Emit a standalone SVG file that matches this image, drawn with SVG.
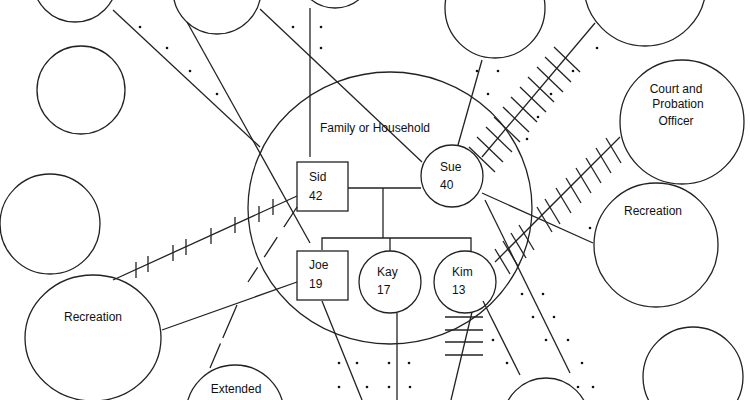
<svg xmlns="http://www.w3.org/2000/svg" width="750" height="400" viewBox="0 0 750 400">
<style>
.n{fill:none;stroke:#222;stroke-width:1.3}
.l{fill:none;stroke:#222;stroke-width:1.3}
.t{font-family:"Liberation Sans",Arial,sans-serif;font-size:12px;fill:#111}
.d{fill:#111}
</style>
<rect width="750" height="400" fill="#fff"/>
<g id="connectors">
<line class="l" x1="310" y1="8" x2="310" y2="157"/>
<line class="l" x1="113" y1="10" x2="260" y2="147"/>
<line class="l" x1="187" y1="22" x2="310" y2="243"/>
<line class="l" x1="260" y1="9" x2="422" y2="162"/>
<line class="l" x1="458" y1="145" x2="482" y2="60"/>
<line class="l" x1="482" y1="157" x2="595" y2="23"/>
<g class="l">
<line x1="469" y1="147" x2="495" y2="172"/><line x1="477" y1="137" x2="503" y2="162"/><line x1="486" y1="127" x2="512" y2="152"/><line x1="494" y1="117" x2="520" y2="142"/><line x1="503" y1="107" x2="529" y2="132"/><line x1="511" y1="97" x2="537" y2="122"/><line x1="520" y1="87" x2="546" y2="112"/><line x1="528" y1="77" x2="554" y2="102"/><line x1="537" y1="67" x2="563" y2="92"/><line x1="545" y1="57" x2="571" y2="82"/><line x1="554" y1="47" x2="580" y2="72"/>
</g>
<line class="l" x1="495" y1="262" x2="620" y2="137"/>
<g class="l">
<line x1="495" y1="249" x2="510" y2="274"/><line x1="503" y1="241" x2="518" y2="266"/><line x1="511" y1="233" x2="526" y2="258"/><line x1="519" y1="225" x2="534" y2="250"/><line x1="537" y1="207" x2="552" y2="232"/><line x1="545" y1="199" x2="560" y2="224"/><line x1="556" y1="188" x2="571" y2="213"/><line x1="566" y1="178" x2="581" y2="203"/><line x1="576" y1="168" x2="591" y2="193"/><line x1="586" y1="158" x2="601" y2="183"/><line x1="596" y1="148" x2="611" y2="173"/><line x1="606" y1="138" x2="621" y2="163"/>
</g>
<line class="l" x1="482" y1="193" x2="593" y2="243"/>
<line class="l" x1="485" y1="200" x2="570" y2="373"/>
<line class="l" x1="483" y1="301" x2="520" y2="375"/>
<line class="l" x1="472" y1="312" x2="451" y2="400"/>
<g class="l">
<line x1="445" y1="317" x2="483" y2="317"/><line x1="445" y1="330" x2="483" y2="330"/><line x1="445" y1="342" x2="483" y2="342"/><line x1="445" y1="355" x2="483" y2="355"/>
</g>
<line class="l" x1="397" y1="313" x2="397" y2="400"/>
<line class="l" x1="322" y1="301" x2="362" y2="400"/>
<line class="l" x1="297" y1="282" x2="162" y2="330"/>
<line class="l" x1="237" y1="305" x2="210" y2="368" stroke-dasharray="36 6"/>
<line class="l" x1="297" y1="207" x2="248" y2="282" stroke-dasharray="24 12"/>
<line class="l" x1="113" y1="280" x2="297" y2="196"/>
<g class="l">
<line x1="136" y1="262" x2="136" y2="278"/><line x1="148" y1="256" x2="148" y2="272"/><line x1="173" y1="245" x2="173" y2="261"/><line x1="186" y1="239" x2="186" y2="255"/><line x1="211" y1="228" x2="211" y2="244"/><line x1="235" y1="217" x2="235" y2="233"/><line x1="259" y1="206" x2="259" y2="222"/><line x1="273" y1="199" x2="273" y2="215"/>
</g>
<line class="l" x1="348" y1="188" x2="421" y2="188"/>
<line class="l" x1="383" y1="188" x2="383" y2="238"/>
<polyline class="l" points="322,250 322,238 471,238 471,251"/>
<line class="l" x1="390" y1="238" x2="390" y2="251"/>
<g class="d">
<circle cx="321" cy="27" r="1.3"/><circle cx="321" cy="48" r="1.3"/><circle cx="293" cy="27" r="1.3"/>
<circle cx="140" cy="27" r="1.3"/><circle cx="167" cy="48" r="1.3"/><circle cx="190" cy="71" r="1.3"/><circle cx="217" cy="94" r="1.3"/>
<circle cx="477" cy="71" r="1.3"/><circle cx="498" cy="71" r="1.3"/><circle cx="488" cy="94" r="1.3"/>
<circle cx="597" cy="48" r="1.3"/><circle cx="573" cy="71" r="1.3"/><circle cx="551" cy="94" r="1.3"/><circle cx="538" cy="117" r="1.3"/><circle cx="527" cy="139" r="1.3"/>
<circle cx="590" cy="228" r="1.3"/>
<circle cx="522" cy="294" r="1.3"/><circle cx="543" cy="294" r="1.3"/><circle cx="533" cy="317" r="1.3"/><circle cx="554" cy="317" r="1.3"/><circle cx="546" cy="340" r="1.3"/><circle cx="568" cy="340" r="1.3"/><circle cx="582" cy="363" r="1.3"/><circle cx="578" cy="387" r="1.3"/><circle cx="593" cy="387" r="1.3"/><circle cx="493" cy="340" r="1.3"/><circle cx="507" cy="363" r="1.3"/>
<circle cx="339" cy="363" r="1.3"/><circle cx="357" cy="363" r="1.3"/><circle cx="389" cy="363" r="1.3"/><circle cx="409" cy="363" r="1.3"/><circle cx="339" cy="387" r="1.3"/><circle cx="367" cy="387" r="1.3"/><circle cx="389" cy="387" r="1.3"/><circle cx="410" cy="387" r="1.3"/>
</g>
</g>
<g id="c-topleft"><circle class="n" cx="75" cy="-20" r="42"/></g>
<g id="c-topmid"><circle class="n" cx="217" cy="-10" r="44"/></g>
<g id="c-topcenter"><circle class="n" cx="335" cy="-30" r="38"/></g>
<g id="c-top2"><circle class="n" cx="495" cy="8" r="50"/></g>
<g id="c-topright"><circle class="n" cx="645" cy="-15" r="61"/></g>
<g id="court"><circle class="n" cx="682" cy="122" r="62"/>
<text class="t" x="676" y="93" text-anchor="middle">Court and</text><text class="t" x="678" y="108" text-anchor="middle">Probation</text><text class="t" x="676" y="125" text-anchor="middle">Officer</text></g>
<g id="rec-right"><circle class="n" cx="656" cy="245" r="62"/><text class="t" x="653" y="215" text-anchor="middle">Recreation</text></g>
<g id="c-botright"><circle class="n" cx="693" cy="377" r="50"/></g>
<g id="c-left1"><circle class="n" cx="81" cy="90" r="44"/></g>
<g id="c-left2"><circle class="n" cx="50" cy="224" r="50"/></g>
<g id="rec-left"><ellipse class="n" cx="93" cy="338" rx="68" ry="63"/><text class="t" x="93" y="321" text-anchor="middle">Recreation</text></g>
<g id="extended"><circle class="n" cx="235" cy="414" r="49"/><text class="t" x="236" y="393" text-anchor="middle">Extended</text></g>
<g id="c-botmid"><circle class="n" cx="546" cy="421" r="43"/></g>
<g id="family"><ellipse class="n" cx="390" cy="208" rx="142" ry="136"/><text class="t" x="320" y="132">Family or Household</text></g>
<g id="sid"><rect class="n" x="297" y="162" width="51" height="49" fill="#fff"/><text class="t" x="309" y="181">Sid</text><text class="t" x="309" y="200">42</text></g>
<g id="sue"><circle class="n" cx="452" cy="176" r="31"/><text class="t" x="440" y="171">Sue</text><text class="t" x="440" y="189">40</text></g>
<g id="joe"><rect class="n" x="297" y="251" width="51" height="49"/><text class="t" x="309" y="269">Joe</text><text class="t" x="309" y="288">19</text></g>
<g id="kay"><circle class="n" cx="390" cy="282" r="31"/><text class="t" x="377" y="276">Kay</text><text class="t" x="377" y="294">17</text></g>
<g id="kim"><circle class="n" cx="465" cy="282" r="31"/><text class="t" x="452" y="276">Kim</text><text class="t" x="452" y="294">13</text></g>
</svg>
